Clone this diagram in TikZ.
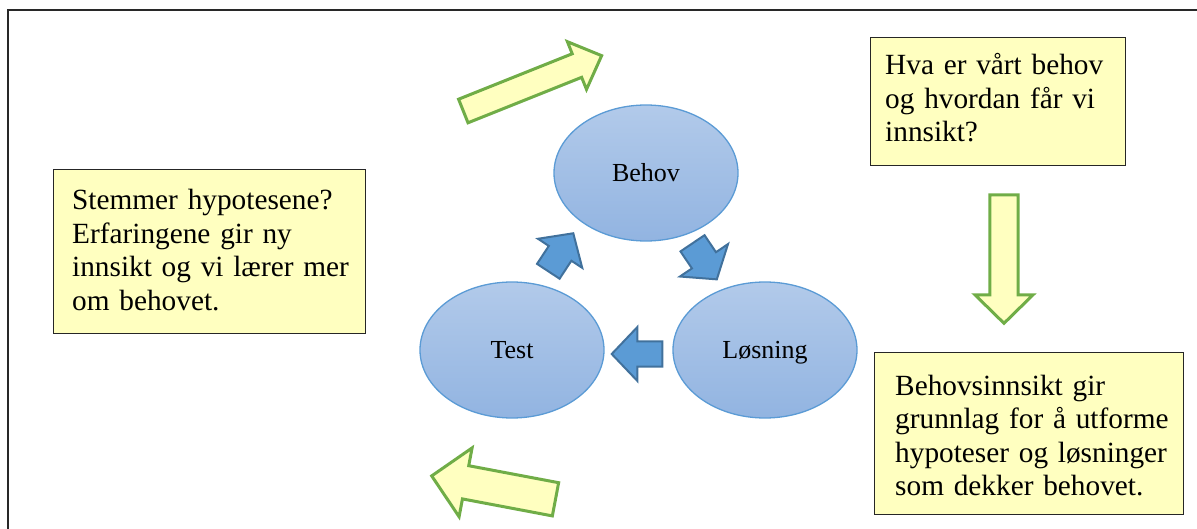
\documentclass[tikz,border=0pt]{standalone}
\usepackage{fontspec}
\setmainfont{Liberation Serif}
\usetikzlibrary{shapes.geometric}
\definecolor{boxfill}{RGB}{255,255,192}
\definecolor{greenline}{RGB}{112,173,71}
\definecolor{bluefill}{RGB}{91,155,213}
\definecolor{blueline}{RGB}{65,113,156}
\definecolor{elltop}{RGB}{178,202,234}
\definecolor{ellbot}{RGB}{146,180,225}
\definecolor{ellline}{RGB}{91,155,213}
\definecolor{framecol}{RGB}{40,40,40}
\newcommand\fatarrow[8]{%
  \begin{scope}[shift={(#1,#2)},rotate=#3]
    \draw[#8] (0,{-#5/2}) -- ({#4-#7},{-#5/2}) -- ({#4-#7},{-#6/2}) -- (#4,0)
      -- ({#4-#7},{#6/2}) -- ({#4-#7},{#5/2}) -- (0,{#5/2}) -- cycle;
  \end{scope}}
\tikzset{
  x=1pt, y=-1pt,
  greenarrow/.style={fill=boxfill, draw=greenline, line width=3pt},
  bluearrow/.style={fill=bluefill, draw=blueline, line width=2pt},
  ybox/.style={rectangle, fill=boxfill, draw=black!85, line width=1.4pt, inner sep=0pt, anchor=north west},
  boxtext/.style={inner sep=0pt, anchor=base west, align=left, text width=400pt,
    font=\fontsize{29.3}{33.5}\selectfont},
  ell/.style={ellipse, draw=ellline, line width=1.3pt, top color=elltop, bottom color=ellbot,
    minimum width=184pt, minimum height=136pt, inner sep=0pt,
    font=\fontsize{26}{30}\selectfont, text height=17pt, text depth=0pt},
}
\begin{document}
\begin{tikzpicture}
\useasboundingbox (0,0) rectangle (1197,529);
% outer frame
\draw[framecol, line width=1.5pt] (8,529) -- (8,10) -- (1197,10);
% text boxes
\node[ybox, minimum width=312pt, minimum height=164pt] (b1) at (53,169) {};
\node[boxtext] (t1) at (72,210) {Stemmer hypotesene?\\Erfaringene gir ny\\innsikt og vi lærer mer\\om behovet.};
\node[ybox, minimum width=255pt, minimum height=128pt] (b2) at (870,37) {};
\node[boxtext] (t2) at (885,75) {Hva er vårt behov\\og hvordan får vi\\innsikt?};
\node[ybox, minimum width=309pt, minimum height=162pt] (b3) at (874,352) {};
\node[boxtext] (t3) at (895,395) {Behovsinnsikt gir\\grunnlag for å utforme\\hypoteser og løsninger\\som dekker behovet.};
% ellipses
\node[ell] (behov) at (646,173) {Behov};
\node[ell] (test) at (512,350) {Test};
\node[ell] (losning) at (765,350) {Løsning};
% blue arrows
\fatarrow{548.3}{271.3}{56.7}{45.5}{27}{53}{24}{bluearrow}
\fatarrow{692.5}{243.3}{-56}{43.5}{29}{58}{23}{bluearrow}
\fatarrow{662.3}{354}{180}{50.6}{25}{54}{25.7}{bluearrow}
% green arrows
\fatarrow{463.3}{111}{21.8}{149}{25.4}{51.4}{26.6}{greenarrow}
\fatarrow{1004}{195}{-90}{128.3}{28.3}{57.7}{28.3}{greenarrow}
\fatarrow{555.5}{499.3}{169.3}{126}{33.8}{70}{34.5}{greenarrow}
\end{tikzpicture}
\end{document}
